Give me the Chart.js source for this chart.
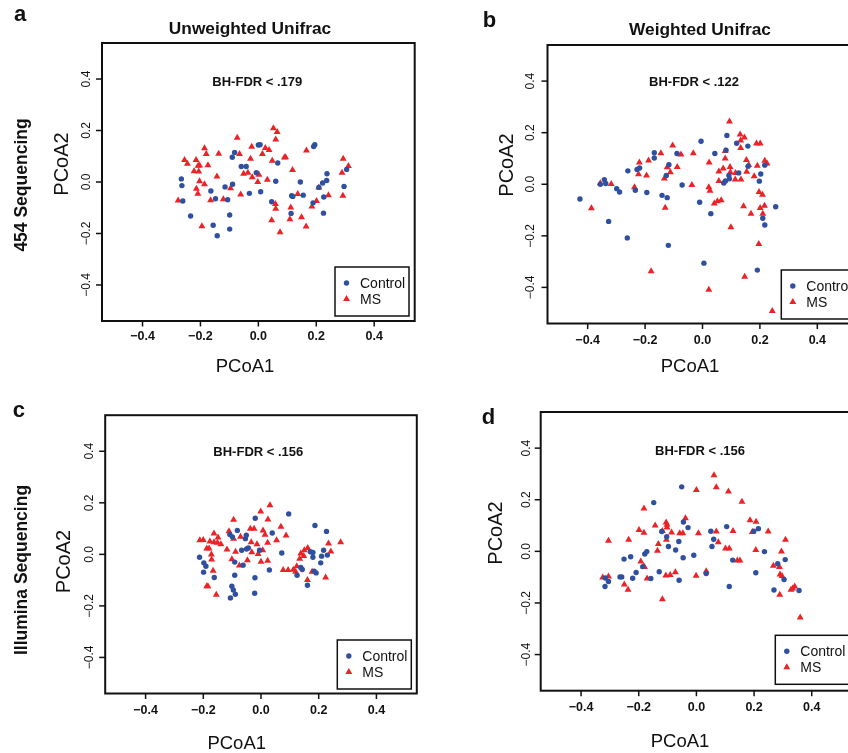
<!DOCTYPE html>
<html>
<head>
<meta charset="utf-8">
<script src="https://cdn.jsdelivr.net/npm/chart.js@4/dist/chart.umd.min.js"></script>
<style>
  html, body { margin: 0; padding: 0; background: #fff; overflow: hidden; }
  #page { position: relative; width: 848px; height: 753px; overflow: hidden; }
  #page canvas { position: absolute; }
</style>
</head>
<body>
<div id="page">
  <canvas id="pa"></canvas>
  <canvas id="pb"></canvas>
  <canvas id="pc"></canvas>
  <canvas id="pd"></canvas>
</div>
<script>
// ---- data (PCoA1, PCoA2) ----
const groups = ['Control', 'MS'];
const tickVals = [-0.4, -0.2, 0, 0.2, 0.4];
const tickLabels = ['\u22120.4', '\u22120.2', '0.0', '0.2', '0.4'];
const colTitles = ['Unweighted Unifrac', 'Weighted Unifrac'];
const rowTitles = ['454 Sequencing', 'Illumina Sequencing'];
const fdrLabels = ['BH-FDR < .179', 'BH-FDR < .122', 'BH-FDR < .156', 'BH-FDR < .156'];

// a: 454, unweighted
const ctrlA = [[-0.266,0.012],[-0.264,-0.014],[-0.261,-0.074],[-0.234,-0.132],[-0.164,-0.035],[-0.148,-0.065],[-0.156,-0.168],[-0.142,-0.209],[-0.115,-0.019],[-0.106,-0.069],[-0.099,-0.128],[-0.099,-0.183],[-0.089,-0.009],[-0.090,0.096],[-0.082,0.115],[-0.059,0.060],[-0.042,0.060],[-0.031,-0.044],[-0.007,0.036],[0.000,0.144],[0.006,0.145],[0.008,-0.038],[0.046,-0.077],[0.060,0.003],[0.067,0.074],[0.113,-0.122],[0.115,-0.053],[0.119,-0.056],[0.145,0.000],[0.155,-0.051],[0.189,-0.081],[0.191,0.138],[0.195,0.145],[0.209,-0.021],[0.222,-0.004],[0.226,-0.058],[0.225,-0.121],[0.236,0.006],[0.237,0.032],[0.296,-0.017],[0.305,0.049]];
const msA = [[-0.277,-0.072],[-0.255,0.085],[-0.245,0.071],[-0.222,0.042],[-0.215,0.085],[-0.208,0.063],[-0.203,0.064],[-0.206,0.041],[-0.203,0.003],[-0.214,-0.026],[-0.209,-0.046],[-0.195,-0.172],[-0.186,0.131],[-0.180,0.109],[-0.186,-0.009],[-0.174,0.065],[-0.165,-0.071],[-0.143,0.021],[-0.137,0.110],[-0.121,-0.067],[-0.096,-0.024],[-0.073,0.172],[-0.065,0.109],[-0.061,-0.049],[-0.051,0.032],[-0.036,0.036],[-0.027,0.090],[-0.023,0.137],[-0.021,0.018],[-0.002,0.000],[0.002,0.028],[0.014,0.109],[0.024,0.132],[0.037,0.124],[0.031,0.009],[0.048,0.083],[0.052,0.209],[0.065,0.194],[0.060,0.165],[0.090,0.095],[0.094,0.096],[0.046,-0.149],[0.059,-0.085],[0.060,-0.104],[0.075,-0.195],[0.109,-0.145],[0.112,-0.099],[0.118,0.047],[0.136,-0.047],[0.149,-0.137],[0.166,0.122],[0.165,-0.173],[0.185,-0.095],[0.201,-0.074],[0.209,-0.021],[0.242,-0.051],[0.289,0.036],[0.293,0.090],[0.311,0.062],[0.292,-0.053]];

// b: 454, weighted
const ctrlB = [[-0.427,-0.057],[-0.356,0.000],[-0.342,0.018],[-0.337,0.003],[-0.327,-0.144],[-0.299,-0.017],[-0.289,-0.030],[-0.262,-0.208],[-0.260,0.052],[-0.234,-0.023],[-0.228,0.057],[-0.219,0.063],[-0.194,-0.032],[-0.168,0.122],[-0.168,0.102],[-0.141,-0.043],[-0.126,0.034],[-0.123,-0.052],[-0.117,0.076],[-0.119,-0.237],[-0.089,0.119],[-0.071,-0.003],[-0.010,-0.070],[-0.005,0.167],[0.005,-0.306],[0.029,-0.114],[0.043,0.119],[0.074,0.005],[0.080,0.013],[0.082,0.132],[0.085,0.189],[0.092,0.034],[0.094,0.021],[0.119,0.159],[0.126,0.044],[0.158,0.148],[0.159,0.070],[0.191,-0.333],[0.198,0.012],[0.203,0.040],[0.210,-0.132],[0.217,-0.158],[0.217,0.074],[0.255,-0.087]];
const msB = [[-0.387,-0.093],[-0.356,0.004],[-0.318,0.001],[-0.237,-0.012],[-0.223,0.039],[-0.220,0.084],[-0.195,0.034],[-0.188,0.092],[-0.179,-0.337],[-0.145,0.120],[-0.133,0.022],[-0.130,-0.091],[-0.123,0.066],[-0.112,0.047],[-0.104,0.150],[-0.088,0.067],[-0.075,0.115],[-0.037,-0.003],[-0.032,0.120],[0.022,-0.012],[0.023,0.084],[0.026,-0.025],[0.022,-0.409],[0.041,-0.075],[0.052,-0.066],[0.065,-0.062],[0.057,0.013],[0.057,0.049],[0.072,0.061],[0.079,0.100],[0.079,0.129],[0.094,0.243],[0.096,0.067],[0.099,-0.167],[0.097,0.047],[0.115,0.044],[0.114,0.018],[0.131,0.193],[0.133,0.170],[0.133,0.141],[0.134,0.018],[0.146,0.181],[0.143,-0.085],[0.147,-0.359],[0.153,0.094],[0.154,0.048],[0.161,0.075],[0.169,-0.114],[0.180,0.031],[0.188,0.158],[0.191,0.072],[0.201,0.158],[0.196,-0.232],[0.197,-0.030],[0.201,-0.092],[0.209,-0.041],[0.210,-0.114],[0.216,-0.083],[0.217,0.091],[0.225,0.080],[0.243,-0.492]];

// c: Illumina, unweighted
const ctrlC = [[-0.213,-0.011],[-0.198,-0.033],[-0.191,-0.046],[-0.199,-0.069],[-0.162,-0.090],[-0.108,0.077],[-0.099,0.068],[-0.082,0.093],[-0.091,-0.030],[-0.091,-0.081],[-0.101,-0.124],[-0.096,-0.138],[-0.089,-0.155],[-0.106,-0.169],[-0.067,0.016],[-0.062,-0.042],[-0.054,0.061],[-0.051,0.074],[-0.050,0.021],[-0.044,0.025],[-0.020,0.140],[-0.021,-0.091],[-0.022,-0.151],[-0.005,0.016],[0.029,-0.061],[0.039,0.083],[0.072,0.005],[0.096,0.157],[0.125,-0.081],[0.138,-0.051],[0.143,-0.059],[0.161,-0.120],[0.171,0.010],[0.180,0.007],[0.180,-0.011],[0.184,-0.065],[0.187,0.112],[0.191,-0.072],[0.207,-0.033],[0.210,-0.007],[0.217,0.016],[0.227,0.089],[0.230,-0.003]];
const msC = [[-0.212,0.055],[-0.200,0.056],[-0.188,0.023],[-0.180,0.023],[-0.172,-0.001],[-0.171,-0.020],[-0.166,-0.064],[-0.188,-0.124],[-0.184,-0.124],[-0.155,-0.157],[-0.177,0.050],[-0.163,0.081],[-0.163,0.047],[-0.149,0.065],[-0.151,0.045],[-0.139,0.039],[-0.118,0.019],[-0.111,0.090],[-0.095,0.134],[-0.095,0.061],[-0.101,-0.019],[-0.088,0.010],[-0.075,-0.043],[-0.071,0.068],[-0.047,-0.023],[-0.034,0.047],[-0.037,0.099],[-0.024,0.099],[-0.032,0.008],[-0.014,0.039],[-0.010,0.001],[0.000,-0.029],[-0.001,0.166],[0.006,0.016],[0.007,0.093],[0.014,0.076],[0.023,0.045],[0.023,-0.025],[0.024,0.135],[0.031,0.191],[0.054,0.055],[0.069,0.107],[0.087,0.073],[0.077,-0.061],[0.094,-0.061],[0.112,-0.060],[0.120,-0.068],[0.124,-0.046],[0.134,-0.017],[0.138,0.003],[0.150,0.016],[0.148,-0.006],[0.162,0.025],[0.161,-0.100],[0.177,-0.068],[0.224,-0.090],[0.234,0.042],[0.242,0.011],[0.276,0.047]];

// d: Illumina, weighted
const ctrlD = [[-0.317,-0.136],[-0.316,-0.103],[-0.305,-0.117],[-0.265,-0.099],[-0.259,-0.099],[-0.251,-0.030],[-0.228,-0.021],[-0.221,-0.104],[-0.209,-0.082],[-0.186,-0.059],[-0.179,-0.010],[-0.172,-0.001],[-0.158,-0.105],[-0.148,0.189],[-0.129,-0.079],[-0.120,0.077],[-0.103,0.057],[-0.097,0.019],[-0.072,0.005],[-0.061,0.038],[-0.060,-0.112],[-0.051,0.250],[-0.046,-0.025],[-0.045,0.114],[-0.029,0.092],[-0.009,-0.015],[0.034,-0.086],[0.050,0.078],[0.054,0.019],[0.060,0.047],[0.105,0.096],[0.114,-0.136],[0.126,-0.034],[0.199,0.078],[0.206,-0.083],[0.215,0.088],[0.236,-0.001],[0.269,-0.150],[0.282,-0.048],[0.304,-0.109],[0.308,-0.032],[0.356,-0.152]];
const msD = [[-0.325,-0.101],[-0.305,-0.097],[-0.305,0.041],[-0.250,-0.128],[-0.237,-0.149],[-0.235,0.045],[-0.199,0.083],[-0.193,-0.039],[-0.183,-0.059],[-0.180,-0.061],[-0.182,0.166],[-0.182,0.072],[-0.171,-0.105],[-0.143,0.100],[-0.135,0.002],[-0.132,0.028],[-0.118,-0.186],[-0.118,0.079],[-0.106,-0.094],[-0.105,0.112],[-0.104,0.045],[-0.102,0.103],[-0.102,0.092],[-0.091,-0.092],[-0.086,0.073],[-0.073,-0.081],[-0.058,0.070],[-0.047,0.070],[-0.038,0.128],[0.000,0.238],[-0.001,-0.095],[0.007,0.070],[0.034,-0.077],[0.061,0.295],[0.069,0.248],[0.069,0.077],[0.076,0.035],[0.101,0.011],[0.114,0.011],[0.111,0.232],[0.127,0.079],[0.142,-0.035],[0.151,-0.035],[0.158,0.192],[0.186,0.121],[0.194,0.075],[0.207,0.115],[0.206,0.005],[0.249,0.077],[0.267,-0.056],[0.288,-0.061],[0.290,-0.090],[0.297,-0.096],[0.289,-0.168],[0.295,-0.001],[0.309,0.045],[0.328,-0.149],[0.334,-0.144],[0.341,-0.136],[0.360,-0.256]];

// ---- styling / layout ----
const FONT = '"Liberation Sans", Arial, Helvetica, sans-serif';
const BLUE = '#2f4f9f';
const RED = '#ec2227';
const INK = '#111';
const AX_MIN = -0.54, AX_MAX = 0.54;

// positions are page pixels
const panels = [
  { canvas: 'pa', ctrl: ctrlA, ms: msA, fdr: fdrLabels[0], left: 0, top: 0, w: 430, h: 390,
    pad: { left: 102, right: 15.3, top: 43, bottom: 69 },
    letter: ['a', 14, 20.7], title: [colTitles[0], 250, 34.3], row: [rowTitles[0], 27, 185],
    yTitle: [68.3, 164], xTitle: [245, 372], yTickX: 90, xTickY: 340, fdrPos: [257.3, 81], legend: [335, 267] },
  { canvas: 'pb', ctrl: ctrlB, ms: msB, fdr: fdrLabels[1], left: 430, top: 0, w: 440, h: 390,
    pad: { left: 117.5, right: 12.5, top: 45, bottom: 66.5 },
    letter: ['b', 482.7, 26.7], title: [colTitles[1], 700, 34.5], row: null,
    yTitle: [513.3, 165], xTitle: [690, 371.5], yTickX: 533.5, xTickY: 344, fdrPos: [694, 81.7], legend: [781.3, 270] },
  { canvas: 'pc', ctrl: ctrlC, ms: msC, fdr: fdrLabels[2], left: 0, top: 390, w: 430, h: 363,
    pad: { left: 105.2, right: 13.2, top: 25.2, bottom: 59.5 },
    letter: ['c', 12.7, 416.7], title: null, row: [rowTitles[1], 27, 570],
    yTitle: [70, 561.5], xTitle: [236.7, 749], yTickX: 93.3, xTickY: 714, fdrPos: [258.3, 451], legend: [337.3, 640] },
  { canvas: 'pd', ctrl: ctrlD, ms: msD, fdr: fdrLabels[3], left: 430, top: 390, w: 440, h: 363,
    pad: { left: 110.7, right: 17.9, top: 22, bottom: 62.3 },
    letter: ['d', 481.7, 423.5], title: null, row: null,
    yTitle: [501.7, 533], xTitle: [680, 746.5], yTickX: 530, xTickY: 711, fdrPos: [700, 450.7], legend: [775.3, 635.3] }
];

function text(ctx, s, x, y, font, align, rot) {
  ctx.save();
  ctx.translate(x, y);
  if (rot) ctx.rotate(rot);
  ctx.font = font;
  ctx.fillStyle = INK;
  ctx.textAlign = align || 'center';
  ctx.textBaseline = 'alphabetic';
  ctx.fillText(s, 0, 0);
  ctx.restore();
}

function marker(ctx, style, x, y) {
  ctx.beginPath();
  if (style === 'triangle') {
    const r = 4;
    ctx.fillStyle = RED;
    ctx.moveTo(x, y - r);
    ctx.lineTo(x + r * 0.866, y + r / 2);
    ctx.lineTo(x - r * 0.866, y + r / 2);
    ctx.closePath();
  } else {
    ctx.fillStyle = BLUE;
    ctx.arc(x, y, 2.7, 0, Math.PI * 2);
  }
  ctx.fill();
}

function makeDecor(p) {
  return {
    id: 'decor',
    afterDraw(chart) {
      const ctx = chart.ctx;
      const ca = chart.chartArea;
      const xs = chart.scales.x, ys = chart.scales.y;
      ctx.save();
      ctx.translate(-p.left, -p.top);
      const L = ca.left + p.left, R = ca.right + p.left;
      const T = ca.top + p.top, B = ca.bottom + p.top;

      // frame
      ctx.strokeStyle = INK;
      ctx.lineWidth = 2;
      ctx.strokeRect(L, T, R - L, B - T);

      // ticks and tick labels
      ctx.lineWidth = 1.5;
      tickVals.forEach((v, i) => {
        const px = xs.getPixelForValue(v) + p.left;
        ctx.beginPath();
        ctx.moveTo(px, B);
        ctx.lineTo(px, B + 5.5);
        ctx.stroke();
        text(ctx, tickLabels[i], px, p.xTickY, 'bold 12.5px ' + FONT, 'center');

        const py = ys.getPixelForValue(v) + p.top;
        ctx.beginPath();
        ctx.moveTo(L, py);
        ctx.lineTo(L - 6, py);
        ctx.stroke();
        text(ctx, tickLabels[i], p.yTickX, py, '12px ' + FONT, 'center', -Math.PI / 2);
      });

      // axis titles
      text(ctx, 'PCoA1', p.xTitle[0], p.xTitle[1], '18.5px ' + FONT, 'center');
      text(ctx, 'PCoA2', p.yTitle[0], p.yTitle[1], '20px ' + FONT, 'center', -Math.PI / 2);

      // panel letter, column title, row title
      text(ctx, p.letter[0], p.letter[1], p.letter[2], 'bold 22px ' + FONT, 'left');
      if (p.title) text(ctx, p.title[0], p.title[1], p.title[2], 'bold 17.3px ' + FONT, 'center');
      if (p.row) text(ctx, p.row[0], p.row[1], p.row[2], 'bold 17.5px ' + FONT, 'center', -Math.PI / 2);

      // FDR annotation
      text(ctx, p.fdr, p.fdrPos[0], p.fdrPos[1] + 4.5, 'bold 13px ' + FONT, 'center');

      // legend box
      const lx = p.legend[0], ly = p.legend[1];
      ctx.fillStyle = '#fff';
      ctx.fillRect(lx, ly, 74, 49);
      ctx.lineWidth = 1.5;
      ctx.strokeStyle = INK;
      ctx.strokeRect(lx, ly, 74, 49);
      marker(ctx, 'circle', lx + 11.5, ly + 16);
      marker(ctx, 'triangle', lx + 11.5, ly + 32);
      text(ctx, groups[0], lx + 25, ly + 21, '14px ' + FONT, 'left');
      text(ctx, groups[1], lx + 25, ly + 37, '14px ' + FONT, 'left');

      ctx.restore();
    }
  };
}

panels.forEach(p => {
  const cv = document.getElementById(p.canvas);
  cv.width = p.w;
  cv.height = p.h;
  cv.style.left = p.left + 'px';
  cv.style.top = p.top + 'px';
  cv.style.width = p.w + 'px';
  cv.style.height = p.h + 'px';

  const toPts = arr => arr.map(d => ({ x: d[0], y: d[1] }));

  new Chart(cv.getContext('2d'), {
    type: 'scatter',
    data: {
      datasets: [
        {
          label: groups[0],
          data: toPts(p.ctrl),
          pointStyle: 'circle',
          pointRadius: 2.7,
          backgroundColor: BLUE,
          borderWidth: 0
        },
        {
          label: groups[1],
          data: toPts(p.ms),
          pointStyle: 'triangle',
          pointRadius: 4,
          backgroundColor: RED,
          borderWidth: 0
        }
      ]
    },
    options: {
      responsive: false,
      animation: false,
      devicePixelRatio: 1,
      events: [],
      layout: { padding: p.pad },
      plugins: {
        legend: { display: false },
        tooltip: { enabled: false }
      },
      scales: {
        x: { type: 'linear', min: AX_MIN, max: AX_MAX, display: false },
        y: { type: 'linear', min: AX_MIN, max: AX_MAX, display: false }
      }
    },
    plugins: [makeDecor(p)]
  });
});
</script>
</body>
</html>
